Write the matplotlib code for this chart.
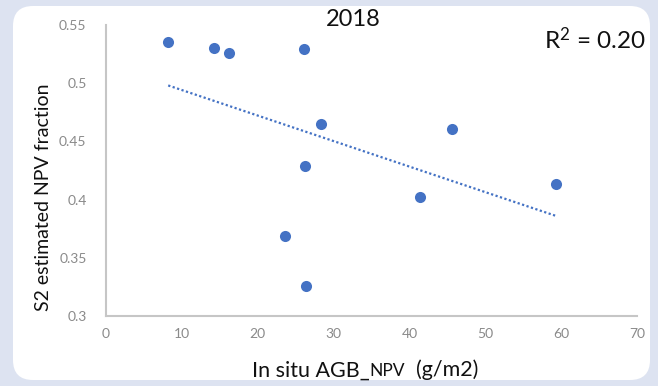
import numpy as np
import matplotlib
matplotlib.use("Agg")
import matplotlib.pyplot as plt
from matplotlib.patches import FancyBboxPatch
from matplotlib.offsetbox import TextArea, HPacker, AnnotationBbox

# In situ AGB_NPV (g/m2) vs S2 estimated NPV fraction, 2018
agb_npv = [8.2, 14.2, 16.2, 26.1, 28.3, 26.2, 23.6, 26.3, 45.6, 41.4, 59.3]
npv_fraction = [0.535, 0.530, 0.526, 0.529, 0.465, 0.429, 0.369, 0.326, 0.461, 0.402, 0.413]
x_ticks = [0, 10, 20, 30, 40, 50, 60, 70]
y_ticks = [0.3, 0.35, 0.4, 0.45, 0.5, 0.55]
y_tick_labels = ["0.3", "0.35", "0.4", "0.45", "0.5", "0.55"]
title = "2018"
r2_label = r"R$^{2}$ = 0.20"

FONT = "Lato"
plt.rcParams["font.family"] = [FONT, "DejaVu Sans"]
plt.rcParams["mathtext.fontset"] = "custom"
plt.rcParams["mathtext.rm"] = FONT
plt.rcParams["mathtext.it"] = FONT
plt.rcParams["mathtext.default"] = "regular"

W, H, DPI = 658, 386, 100
fig = plt.figure(figsize=(W / DPI, H / DPI), dpi=DPI)
fig.patch.set_facecolor("#dde3f1")

# white rounded panel behind the chart
panel = FancyBboxPatch((0.13 + 0.2, 0.06 + 0.2), 6.37 - 0.4, 3.74 - 0.4,
                       boxstyle="round,pad=0.2", transform=fig.dpi_scale_trans,
                       facecolor="white", edgecolor="none", zorder=0)
fig.patches.append(panel)

ax = fig.add_axes([106 / W, 1 - 316 / H, (637 - 106) / W, (316 - 25) / H])
ax.set_zorder(2)
ax.set_facecolor("none")
ax.set_xlim(0, 70)
ax.set_ylim(0.3, 0.55)
for s in ("top", "right"):
    ax.spines[s].set_visible(False)
for s in ("left", "bottom"):
    ax.spines[s].set_color("#c6c6c6")
    ax.spines[s].set_linewidth(1.5)
ax.set_xticks(x_ticks)
ax.set_yticks(y_ticks)
ax.set_yticklabels(y_tick_labels)
ax.tick_params(length=0, labelsize=10, labelcolor="#8a8a8a")
ax.tick_params(axis="x", pad=9)
ax.tick_params(axis="y", pad=14)

ax.scatter(agb_npv, npv_fraction, s=64, color="#4472c4", zorder=3, linewidths=0)

# linear trend line
xs = np.array(agb_npv)
slope, intercept = np.polyfit(xs, npv_fraction, 1)
xl = np.array([xs.min(), xs.max()])
ax.plot(xl, slope * xl + intercept, color="#4472c4", lw=1.6,
        linestyle=(0, (1, 1.1)), zorder=2)

fig.text(353 / W, 1 - 19 / H, title, fontsize=17, ha="center", va="center", color="#111111")
fig.text(595 / W, 1 - 40 / H, r2_label, fontsize=17.5, ha="center", va="center", color="#111111")

ax.set_ylabel("S2 estimated NPV fraction", fontsize=14, color="#111111")
ax.yaxis.set_label_coords(44 / W, 1 - 197 / H, transform=fig.transFigure)
ax.yaxis.label.set_va("center")

parts = [TextArea("In situ AGB_", textprops=dict(fontsize=15.5, color="#111111")),
         TextArea("NPV", textprops=dict(fontsize=12.5, color="#111111")),
         TextArea("  (g/m2)", textprops=dict(fontsize=15.5, color="#111111"))]
xlabel = HPacker(children=parts, align="baseline", pad=0, sep=0)
ab = AnnotationBbox(xlabel, (365 / W, 1 - 370 / H), xycoords="figure fraction",
                    frameon=False, box_alignment=(0.5, 0.5))
fig.add_artist(ab)

fig.savefig("out.png", dpi=DPI, facecolor=fig.get_facecolor())
